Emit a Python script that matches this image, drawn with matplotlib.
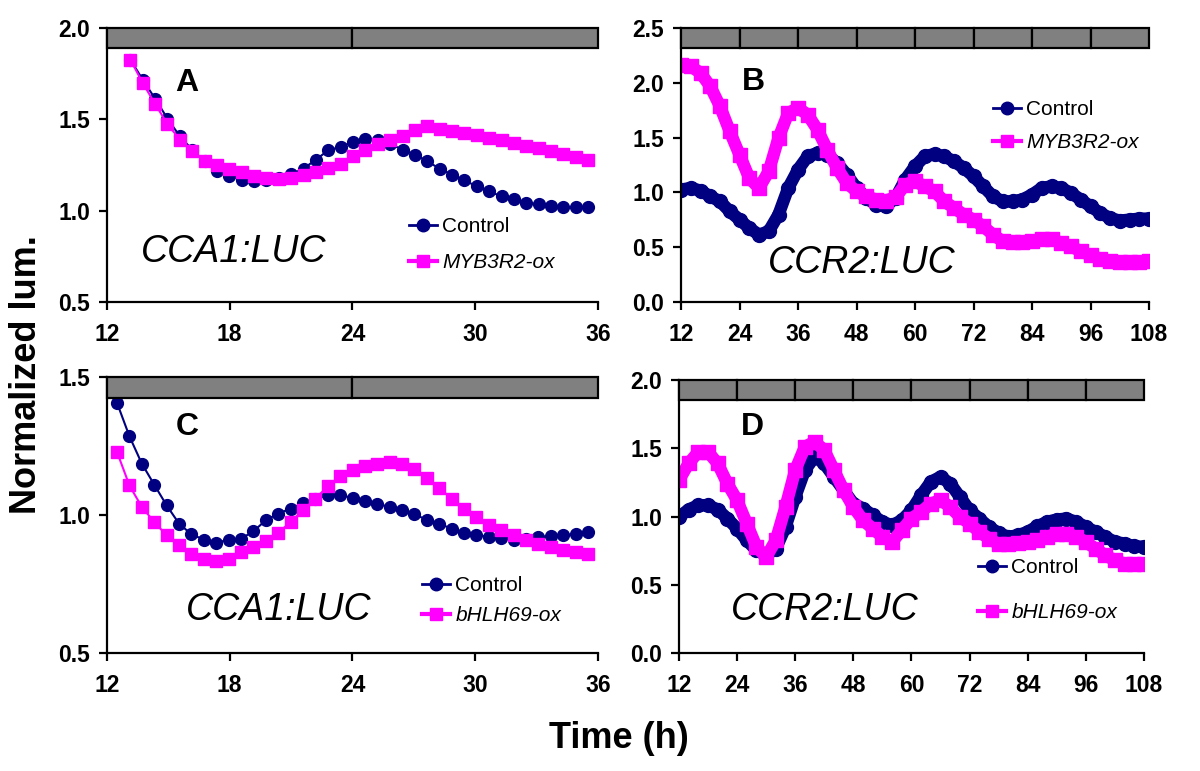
import numpy as np
import matplotlib
matplotlib.use("Agg")
import matplotlib.pyplot as plt
from matplotlib.patches import Rectangle
from matplotlib.lines import Line2D
from matplotlib.ticker import FormatStrFormatter

plt.rcParams['font.family'] = ['Liberation Sans', 'DejaVu Sans']

NAVY = '#000080'
MAGENTA = '#ff00ff'

# ---- panel A: CCA1:LUC, Control vs MYB3R2-ox (sampled ~0.6 h from 13.1 h)
a_start, a_step = 13.14, 0.605
ctrl_a = [1.827, 1.717, 1.613, 1.504, 1.407, 1.334, 1.27, 1.219, 1.188, 1.17,
          1.16, 1.166, 1.18, 1.20, 1.23, 1.28, 1.33, 1.35, 1.376, 1.392,
          1.389, 1.365, 1.334, 1.307, 1.27, 1.23, 1.197, 1.166, 1.133, 1.106,
          1.078, 1.066, 1.042, 1.036, 1.027, 1.02, 1.02, 1.02]
myb_a = [1.827, 1.699, 1.584, 1.474, 1.389, 1.325, 1.274, 1.248, 1.23, 1.212,
         1.192, 1.179, 1.175, 1.179, 1.197, 1.21, 1.234, 1.255, 1.297, 1.334,
         1.365, 1.389, 1.407, 1.443, 1.462, 1.447, 1.438, 1.425, 1.412, 1.398,
         1.385, 1.37, 1.356, 1.343, 1.325, 1.31, 1.292, 1.276]

# ---- panel C: CCA1:LUC, Control vs bHLH69-ox (sampled ~0.6 h from 12.5 h)
c_start, c_step = 12.49, 0.606
ctrl_c = [1.406, 1.285, 1.186, 1.11, 1.035, 0.969, 0.93, 0.911, 0.899, 0.911,
          0.914, 0.941, 0.981, 1.005, 1.023, 1.043, 1.059, 1.071, 1.071, 1.063,
          1.051, 1.041, 1.029, 1.017, 1.002, 0.983, 0.969, 0.95, 0.935, 0.929,
          0.92, 0.917, 0.911, 0.914, 0.92, 0.924, 0.926, 0.932, 0.938]
bhlh_c = [1.228, 1.107, 1.029, 0.975, 0.926, 0.89, 0.86, 0.842, 0.833, 0.842,
          0.866, 0.884, 0.906, 0.935, 0.975, 1.017, 1.059, 1.104, 1.14, 1.162,
          1.176, 1.186, 1.192, 1.186, 1.168, 1.135, 1.098, 1.059, 1.023, 0.993,
          0.963, 0.944, 0.926, 0.908, 0.894, 0.884, 0.874, 0.866, 0.86]

# ---- panels B and D: CCR2:LUC, read every 2 h from 12 to 108 h
t_bd = np.arange(12, 109, 2)
ctrl_b = [1.025, 1.04, 1.016, 0.964, 0.918, 0.827, 0.751, 0.675, 0.614, 0.645,
          0.797, 1.04, 1.207, 1.329, 1.36, 1.344, 1.268, 1.162, 1.04, 0.949,
          0.888, 0.873, 0.949, 1.116, 1.238, 1.329, 1.35, 1.329, 1.283, 1.223,
          1.147, 1.055, 0.964, 0.918, 0.918, 0.934, 0.979, 1.04, 1.055, 1.04,
          0.995, 0.934, 0.873, 0.812, 0.766, 0.742, 0.751, 0.76, 0.76]
myb_b = [2.165, 2.15, 2.09, 1.968, 1.785, 1.557, 1.344, 1.131, 1.04, 1.192,
         1.496, 1.724, 1.77, 1.709, 1.572, 1.39, 1.223, 1.086, 1.01, 0.964,
         0.934, 0.925, 0.955, 1.07, 1.101, 1.055, 1.01, 0.918, 0.858, 0.797,
         0.751, 0.69, 0.614, 0.554, 0.544, 0.544, 0.554, 0.578, 0.578, 0.538,
         0.508, 0.462, 0.426, 0.395, 0.371, 0.365, 0.365, 0.365, 0.371]
ctrl_d = [0.998, 1.051, 1.083, 1.083, 1.051, 0.985, 0.912, 0.826, 0.753, 0.716,
          0.765, 0.924, 1.144, 1.34, 1.438, 1.389, 1.291, 1.193, 1.095, 1.059,
          1.01, 0.961, 0.936, 0.973, 1.046, 1.156, 1.254, 1.291, 1.242, 1.144,
          1.046, 0.985, 0.924, 0.88, 0.851, 0.863, 0.888, 0.929, 0.961, 0.978,
          0.985, 0.961, 0.924, 0.888, 0.851, 0.814, 0.802, 0.782, 0.778]
bhlh_d = [1.267, 1.389, 1.474, 1.474, 1.389, 1.242, 1.12, 0.949, 0.778, 0.704,
          0.826, 1.071, 1.34, 1.511, 1.548, 1.487, 1.34, 1.193, 1.071, 0.973,
          0.912, 0.851, 0.814, 0.9, 0.985, 1.034, 1.095, 1.12, 1.071, 0.998,
          0.949, 0.888, 0.839, 0.797, 0.802, 0.807, 0.814, 0.826, 0.851, 0.875,
          0.875, 0.851, 0.814, 0.765, 0.716, 0.68, 0.655, 0.65, 0.65]

ticks_short = [12, 18, 24, 30, 36]
ticks_long = [12, 24, 36, 48, 60, 72, 84, 96, 108]
bar_short = [12, 24, 36]
bar_long = ticks_long


def style_axes(ax, xticks, yticks, bar_edges, bar_h):
    ax.set_xlim(xticks[0], xticks[-1])
    ax.set_ylim(yticks[0], yticks[-1])
    ax.set_xticks(xticks)
    ax.set_yticks(yticks)
    ax.yaxis.set_major_formatter(FormatStrFormatter('%.1f'))
    for s in ['top', 'right']:
        ax.spines[s].set_visible(False)
    for s in ['left', 'bottom']:
        ax.spines[s].set_linewidth(1.6)
    ax.tick_params(direction='out', length=6, width=1.6, labelsize=16.5)
    ax.tick_params(axis='x', pad=9)
    ax.tick_params(axis='y', pad=6)
    for lab in ax.get_xticklabels() + ax.get_yticklabels():
        lab.set_fontweight('bold')
    # grey light/dark bar along the top
    for x0, x1 in zip(bar_edges[:-1], bar_edges[1:]):
        ax.add_patch(Rectangle((x0, 1 - bar_h), x1 - x0, bar_h,
                               transform=ax.get_xaxis_transform(),
                               facecolor='#808080', edgecolor='black',
                               lw=1.6, clip_on=False, zorder=5))


def dense_series(ax, t, v, color, marker):
    # many overlapping points in the original: draw as a thick band
    ax.plot(t, v, color=color, lw=9, solid_capstyle='round',
            solid_joinstyle='round')
    ax.plot(t, v, color=color, marker=marker, ms=10, lw=0)


def add_legend(ax, label2, x, y, spacing, ms):
    h1 = Line2D([], [], color=NAVY, marker='o', markersize=ms, lw=2)
    h2 = Line2D([], [], color=MAGENTA, marker='s', markersize=ms, lw=3)
    leg = ax.legend([h1, h2], ['Control', label2], loc='upper left',
                    bbox_to_anchor=(x, y), frameon=False, fontsize=15,
                    handlelength=1.35, handletextpad=0.25,
                    labelspacing=spacing, borderpad=0, borderaxespad=0)
    leg.get_texts()[1].set_fontstyle('italic')


fig = plt.figure(figsize=(12, 7.71), dpi=100)

# A
ax = fig.add_axes([0.0892, 0.6083, 0.409, 0.3554])
ta = a_start + a_step * np.arange(len(ctrl_a))
ax.plot(ta, ctrl_a, color=NAVY, marker='o', ms=8.5, lw=1.5)
ax.plot(ta, myb_a, color=MAGENTA, marker='s', ms=8.5, lw=1.5)
style_axes(ax, ticks_short, [0.5, 1.0, 1.5, 2.0], bar_short, 0.073)
ax.text(0.163, 0.77, 'A', transform=ax.transAxes, fontsize=23,
        fontweight='bold', ha='center', va='baseline')
ax.text(0.259, 0.146, 'CCA1:LUC', transform=ax.transAxes, fontsize=27,
        style='italic', ha='center', va='baseline')
add_legend(ax, 'MYB3R2-ox', 0.615, 0.31, 0.82, 9)

# B
ax = fig.add_axes([0.5675, 0.6083, 0.39, 0.3554])
dense_series(ax, t_bd, ctrl_b, NAVY, 'o')
dense_series(ax, t_bd, myb_b, MAGENTA, 's')
style_axes(ax, ticks_long, [0.0, 0.5, 1.0, 1.5, 2.0, 2.5], bar_long, 0.073)
ax.text(0.154, 0.774, 'B', transform=ax.transAxes, fontsize=23,
        fontweight='bold', ha='center', va='baseline')
ax.text(0.387, 0.106, 'CCR2:LUC', transform=ax.transAxes, fontsize=27,
        style='italic', ha='center', va='baseline')
add_legend(ax, 'MYB3R2-ox', 0.667, 0.737, 0.68, 9)

# C
ax = fig.add_axes([0.0892, 0.153, 0.409, 0.358])
tc = c_start + c_step * np.arange(len(ctrl_c))
ax.plot(tc, ctrl_c, color=NAVY, marker='o', ms=8.5, lw=1.5)
ax.plot(tc, bhlh_c, color=MAGENTA, marker='s', ms=8.5, lw=1.5)
style_axes(ax, ticks_short, [0.5, 1.0, 1.5], bar_short, 0.076)
ax.text(0.163, 0.79, 'C', transform=ax.transAxes, fontsize=23,
        fontweight='bold', ha='center', va='baseline')
ax.text(0.35, 0.12, 'CCA1:LUC', transform=ax.transAxes, fontsize=27,
        style='italic', ha='center', va='baseline')
add_legend(ax, 'bHLH69-ox', 0.642, 0.279, 0.53, 9)

# D
ax = fig.add_axes([0.5658, 0.153, 0.3875, 0.354])
dense_series(ax, t_bd, ctrl_d, NAVY, 'o')
dense_series(ax, t_bd, bhlh_d, MAGENTA, 's')
style_axes(ax, ticks_long, [0.0, 0.5, 1.0, 1.5, 2.0], bar_long, 0.072)
ax.text(0.159, 0.80, 'D', transform=ax.transAxes, fontsize=23,
        fontweight='bold', ha='center', va='baseline')
ax.text(0.314, 0.121, 'CCR2:LUC', transform=ax.transAxes, fontsize=27,
        style='italic', ha='center', va='baseline')
add_legend(ax, 'bHLH69-ox', 0.643, 0.348, 1.25, 9)

fig.text(0.022, 0.5136, 'Normalized lum.', rotation=90, fontsize=26,
         fontweight='bold', ha='center', va='center')
fig.text(0.516, 0.0428, 'Time (h)', fontsize=26, fontweight='bold',
         ha='center', va='center')

fig.savefig('out.png', dpi=100)
